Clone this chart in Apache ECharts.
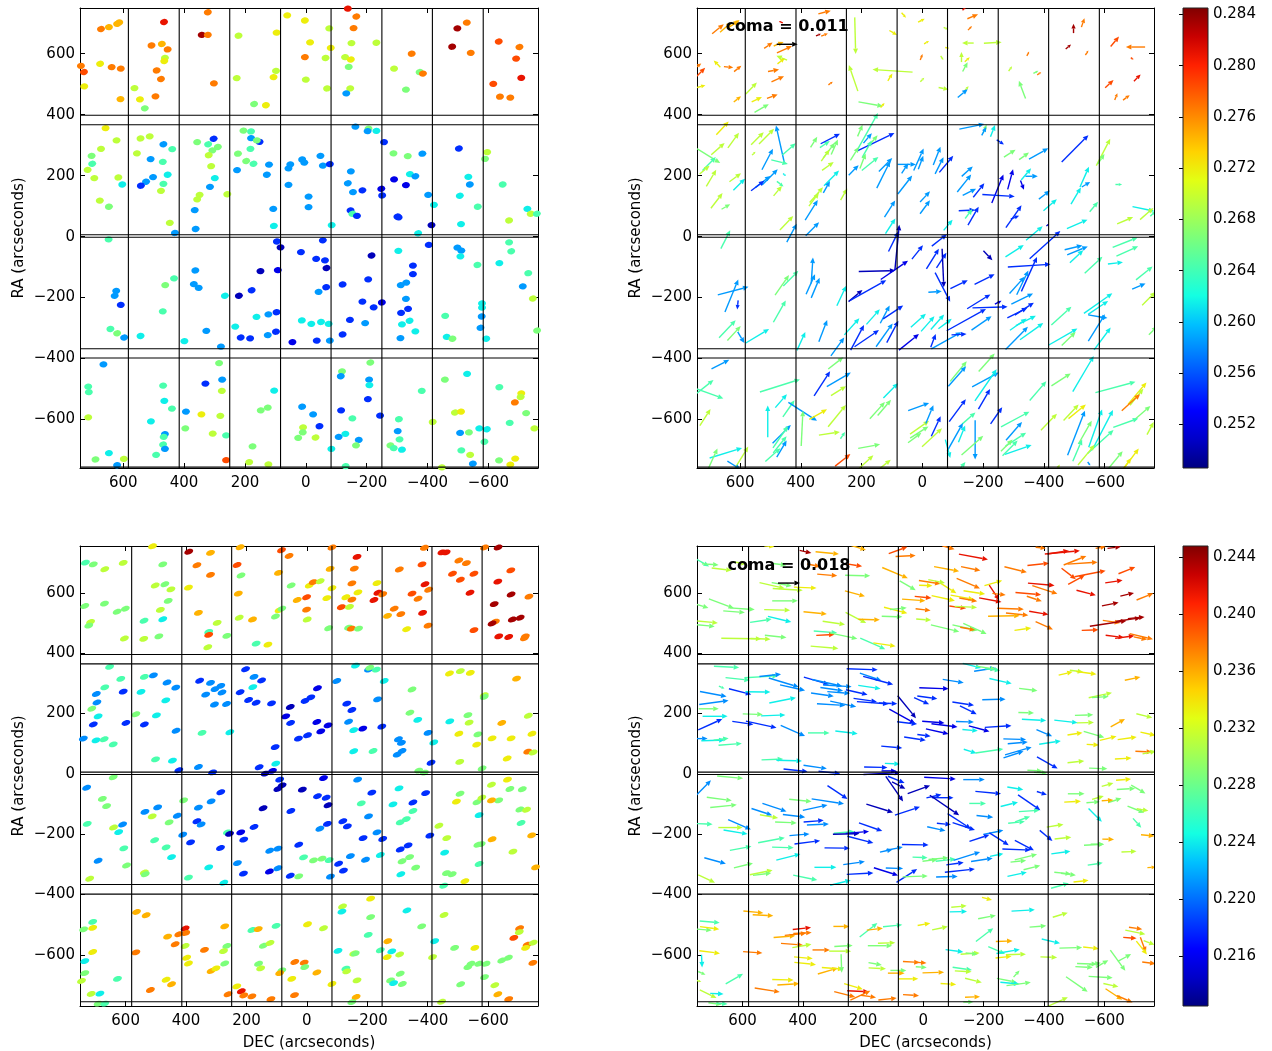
<!DOCTYPE html>
<html>
<head>
<meta charset="utf-8">
<script src="https://cdn.jsdelivr.net/npm/echarts@6/dist/echarts.min.js"></script>
<style>
html,body{margin:0;padding:0;background:#fff}
#chart{width:1272px;height:1051px}
</style>
</head>
<body>
<div id="chart"></div>
<script>
// Star records: [DEC, RA, value, comaDEC, comaRA]; coma components in units of 1e-4
const topStars = [
[673,681,.2766,-61,49],[647,687,.2744,-61,52],[620,698,.2744,-52,35],[613,703,.2744,-35,21],[739,560,.2766,-35,26],
[729,540,.2784,-44,44],[676,567,.2719,35,35],[638,556,.2766,-49,-5],[608,551,.2766,-38,31],[728,493,.2719,-44,12],
[609,451,.2744,-38,30],[466,704,.2809,21,9],[507,627,.2766,-44,30],[473,632,.2744,-52,21],[454,614,.2766,-79,35],
[463,586,.2694,56,23],[465,576,.2719,-38,30],[490,545,.2766,-58,10],[476,517,.2766,-66,30],[563,487,.2694,-58,60],
[545,450,.2719,-54,26],[494,460,.2766,-56,21],[529,421,.2666,-75,42],[322,736,.2766,-65,17],[342,662,.2834,-26,10],
[322,662,.2766,-35,14],[302,503,.2766,-23,17],[221,659,.2694,-5,-192],[227,520,.2694,47,136],[170,435,.2666,-128,-23],
[131,431,.2719,-21,24],[98,544,.2694,210,14],[106,523,.2719,-24,38],[96,669,.2719,-40,-23],[61,726,.2719,-23,-26],
[3,709,.2719,-35,17],[-14,637,.2719,-26,14],[3,589,.2766,-12,31],[0,515,.2694,-21,21],[-77,683,.2694,-21,-10],
[-82,619,.2719,-21,-4],[-65,586,.2694,-14,-21],[-70,486,.2694,-52,-10],[-138,748,.2809,-18,18],[-166,722,.2766,-56,23],
[-157,684,.2766,-21,21],[-150,635,.2694,61,0],[-232,636,.2694,-93,5],[-129,589,.2694,0,52],[-148,581,.2719,-26,23],
[-141,557,.2666,-26,49],[-146,486,.2694,-21,23],[-133,470,.2585,-52,44],[-348,600,.2766,-12,23],[-290,551,.2694,-18,26],
[-374,540,.2666,-26,14],[-385,535,.2766,-21,14],[-329,482,.2666,35,93],[-498,683,.2834,0,49],[-529,702,.2766,-16,47],
[-481,623,.2834,-28,23],[-542,603,.2766,-16,23],[-634,640,.2784,-44,52],[-702,622,.2766,101,0],[-691,584,.2784,-14,-10],
[-708,521,.2809,-35,35],[-616,501,.2784,-44,40],[-638,459,.2766,-14,35],[-672,456,.2766,-35,26],
[658,356,.2719,-65,70],[622,316,.2694,-58,79],[673,288,.2694,-70,61],[704,265,.2666,-122,-75],[702,239,.2644,-70,70],
[717,219,.2694,-52,44],[695,192,.2694,-52,87],[616,194,.2694,-61,44],[603,171,.2615,-61,61],[677,118,.2694,-61,79],
[647,98,.2666,-45,26],[543,322,.2694,-66,65],[513,329,.2694,-79,79],[555,273,.2694,-18,18],[468,303,.2585,44,196],
[439,287,.2644,-70,61],[510,254,.2585,-58,110],[470,245,.2644,-87,-21],[454,203,.2615,-14,-14],[502,195,.2585,-82,82],
[525,180,.2585,-79,61],[542,167,.2547,-70,52],[468,173,.2644,-35,-26],[476,150,.2694,-44,52],[447,45,.2694,-70,73],
[430,12,.2585,-52,96],[357,310,.2666,-35,56],[321,303,.2644,-52,35],[303,321,.2547,-101,52],[289,294,.2666,-35,79],
[307,283,.2666,-61,79],[319,267,.2694,-44,61],[311,231,.2694,-61,44],[299,192,.2615,-79,79],[315,163,.2585,-35,61],
[258,139,.2694,-35,61],[349,137,.2694,-70,79],[357,122,.2694,-52,70],[365,87,.2585,-66,105],[362,25,.2585,-70,70],
[205,348,.2666,-26,61],[180,345,.2644,-108,192],[180,323,.2585,-44,52],[152,311,.2547,-192,91],[161,316,.2666,-44,52],
[182,288,.2644,-49,87],[223,272,.2666,-44,70],[196,248,.2666,-30,79],[172,239,.2644,-87,70],[226,218,.2585,-52,52],
[121,236,.2585,-70,70],[128,203,.2585,-70,140],[107,91,.2585,-56,87],[105,35,.2615,-52,79],[51,237,.2585,-96,0],
[57,224,.2585,-35,52],[57,170,.2585,-75,96],[12,253,.2585,-52,114],[5,243,.2585,-26,70],[-9,131,.2585,-52,56],
[-9,97,.2585,-52,70],[-48,265,.2585,-38,96],[-56,233,.2585,-44,87],[-79,238,.2547,-73,87],[-85,38,.2615,-47,56],
[-163,361,.2585,-131,26],[-206,354,.2666,-18,44],[-203,346,.2585,-23,44],[-232,347,.2615,-24,61],[-257,310,.2547,-38,-24],
[-148,214,.2585,-58,52],[-138,175,.2585,-73,91],[-155,146,.2585,-70,35],[-186,152,.2547,-58,73],[-248,157,.2522,-61,149],
[-251,135,.2547,-170,-10],[-147,86,.2547,-86,4],[-153,75,.2644,-38,49],[-168,68,.2547,-56,96],[-288,273,.2666,-61,38],
[-335,264,.2666,-52,37],[-383,272,.2585,-101,56],[-290,188,.2522,-28,105],[-329,169,.2522,-18,-49],[-342,205,.2615,-52,61],
[-360,198,.2585,-65,0],[-402,137,.2585,-58,45],[-421,104,.2615,-70,60],[-301,66,.2547,-82,117],[-305,63,.2547,-44,17],
[-413,38,.2504,-14,10],[-369,11,.2615,-87,73],[-503,289,.2547,-140,140],[-534,196,.2615,-47,105],[-539,171,.2585,-44,26],
[-506,134,.2615,-52,87],[-565,98,.2644,-44,52],[-510,41,.2615,-108,47],[-596,277,.2694,-73,140],[-589,255,.2666,-35,52],
[-647,171,.2644,-35,0],[-728,91,.2615,-114,-24],[-739,75,.2694,-70,61],[-759,75,.2644,-26,26],[-668,53,.2694,-84,35],
[648,-9,.2644,-49,96],[623,-178,.2585,-161,42],[628,-194,.2585,-70,170],[608,-224,.2547,5,-47],[642,-303,.2644,-87,91],
[620,-317,.2666,-70,75],[597,-331,.2585,-35,-58],[462,-159,.2666,-73,105],[433,-137,.2644,-79,79],[470,-245,.2644,-65,114],
[543,-326,.2615,-122,73],[363,-111,.2585,-9,135],[368,-156,.2585,-47,105],[352,-168,.2585,-44,105],[266,-194,.2615,-49,105],
[327,-309,.2585,-44,114],[399,-343,.2615,-44,96],[279,-361,.2585,-70,96],[95,-16,.2547,-52,105],[83,-35,.2504,-23,236],
[149,-113,.2504,-192,5],[92,-110,.2522,-143,98],[16,-51,.2547,-58,72],[220,-194,.2504,-73,61],[178,-176,.2547,-189,105],
[162,-263,.2615,-70,79],[123,-255,.2585,-49,93],[96,-248,.2547,-105,70],[232,-295,.2615,-79,87],[214,-331,.2547,-70,131],
[183,-334,.2547,-128,87],[125,-323,.2585,-87,122],[98,-312,.2547,-61,114],[44,-346,.2522,-105,84],[13,-275,.2615,-79,70],
[-56,-12,.2547,-79,61],[-34,-73,.2547,-65,105],[-63,-78,.2547,-52,79],[-68,-103,.2504,-9,-201],[-67,-166,.2547,-79,-152],
[-42,-181,.2585,-70,5],[-18,-286,.2615,-70,79],[-50,-280,.2615,-70,79],[-75,-286,.2615,-70,52],[-36,-341,.2547,-26,70],
[-79,-341,.2585,-157,87],[-216,-62,.2504,-47,-49],[-205,-140,.2547,-105,52],[-121,-157,.2547,-91,44],[-186,-213,.2547,-122,75],
[-223,-232,.2547,-184,5],[-250,-216,.2522,-35,17],[-145,-273,.2547,-206,114],[-195,-284,.2585,-105,73],[-121,-321,.2547,-79,4],
[-304,-47,.2615,-96,61],[-404,-27,.2547,-161,145],[-352,-95,.2547,-224,14],[-352,-123,.2547,-82,180],[-330,-151,.2585,-61,126],
[-312,-159,.2585,-79,87],[-329,-204,.2585,-114,56],[-336,-237,.2547,-100,65],[-313,-250,.2547,-105,52],[-341,-276,.2615,-105,52],
[-316,-288,.2615,-87,61],[-360,-311,.2615,-122,87],[-311,-333,.2585,-117,119],[-498,-36,.2585,-93,23],[-511,-46,.2585,-108,44],
[-508,-65,.2615,-70,66],[-564,-93,.2644,-93,87],[-458,-260,.2644,-105,96],[-463,-329,.2615,-152,87],[-482,-335,.2666,-73,70],
[-579,-219,.2615,-149,105],[-579,-233,.2615,-105,70],[-578,-262,.2585,-101,-17],[-574,-299,.2585,-87,140],[-593,-335,.2615,-87,117],
[-668,-19,.2644,-131,52],[-675,-48,.2644,-114,52],[-636,-87,.2615,-79,9],[-731,-120,.2644,-87,70],[-713,-163,.2585,-70,30],
[-746,-203,.2694,-70,70],[-760,-308,.2666,-44,44],
[665,-419,.2585,-93,47],[715,-492,.2644,-87,70],[713,-510,.2644,-184,-66],[715,-593,.2694,-56,87],[647,-710,.2615,-170,52],
[598,-729,.2694,-79,128],[691,-731,.2666,-52,114],[620,-750,.2585,-70,-44],[469,-489,.2644,-210,66],[465,-539,.2615,-61,70],
[440,-564,.2644,-61,87],[509,-606,.2615,0,166],[463,-648,.2585,-96,96],[467,-657,.2644,-79,114],[469,-682,.2644,-70,87],
[463,-696,.2585,-52,87],[492,-716,.2644,-79,70],[285,-415,.2666,-79,61],[330,-482,.2547,-84,128],[275,-469,.2585,-126,73],
[276,-506,.2694,-79,49],[394,-574,.2585,-150,-96],[343,-583,.2719,-93,52],[281,-588,.2694,-93,114],[396,-629,.2666,-9,184],
[306,-646,.2694,-110,17],[262,-652,.2644,-24,35],[262,-733,.2784,-80,63],[104,-505,.2615,-77,77],[148,-570,.2666,-79,87],
[125,-561,.2666,-70,82],[175,-688,.2666,-115,21],[186,-740,.2694,-79,73],[123,-747,.2694,-61,49],[12,-558,.2585,-110,40],
[9,-626,.2694,-100,70],[10,-642,.2666,-96,61],[25,-660,.2666,-70,52],[-24,-583,.2585,-40,96],[-45,-622,.2547,-49,105],
[-32,-659,.2694,-105,96],[-119,-442,.2666,-87,105],[-115,-458,.2585,-93,105],[-212,-413,.2666,-84,93],[-208,-469,.2585,-140,75],
[-209,-487,.2615,-114,166],[-204,-533,.2547,-61,105],[-116,-570,.2547,-87,117],[-153,-596,.2644,-70,61],[-244,-587,.2547,-61,87],
[-108,-657,.2585,-82,145],[-130,-647,.2615,-35,87],[-174,-667,.2585,0,-205],[-165,-685,.2666,-114,100],[-84,-696,.2615,-26,-96],
[-131,-753,.2644,-35,44],[-381,-506,.2644,-87,101],[-306,-599,.2644,-149,79],[-302,-638,.2585,-84,96],[-308,-665,.2644,-108,70],
[-316,-699,.2615,-140,49],[-278,-685,.2666,-61,61],[-289,-694,.2644,-79,79],[-417,-608,.2694,-84,87],[-530,-450,.2615,-110,186],
[-457,-469,.2666,-101,65],[-490,-577,.2694,-79,84],[-510,-574,.2719,-91,73],[-507,-644,.2585,-91,233],[-536,-642,.2666,-70,122],
[-570,-629,.2615,-70,198],[-595,-632,.2615,-105,201],[-587,-673,.2644,-136,122],[-511,-701,.2644,-49,114],[-540,-716,.2694,-87,105],
[-549,-745,.2585,-14,-18],[-447,-757,.2694,-18,30],[-636,-494,.2644,-210,56],[-708,-514,.2719,-96,114],[-706,-526,.2694,-70,87],
[-687,-544,.2766,-96,87],[-724,-579,.2666,-87,75],[-670,-611,.2644,-131,47],[-751,-629,.2694,-35,66],[-635,-734,.2666,-79,96],
[-688,-728,.2719,-79,105],[-672,-748,.2719,-52,70]
];

const bottomStars = [
[733,701,.2267,-109,-63],[707,695,.2287,-137,-8],[669,679,.2312,-164,-19],[608,700,.2312,-109,-14],[735,557,.2287,-109,-35],
[670,565,.2287,-205,-76],[628,538,.2287,-177,-14],[601,548,.2287,-205,-14],[716,504,.2312,-169,-16],[722,492,.2287,-147,-14],
[604,449,.2312,-328,-5],[511,755,.2335,-82,-8],[477,695,.2287,-109,-14],[502,625,.2312,-205,-46],[470,629,.2287,-164,-27],
[450,612,.2312,-246,-14],[459,574,.2287,-210,0],[485,544,.2312,-213,-5],[539,508,.2267,-177,27],[477,513,.2241,-191,-46],
[540,448,.2312,-164,-5],[490,456,.2287,-177,-19],[391,737,.2438,-96,-22],[319,733,.2358,-191,-19],[364,692,.2377,-109,-22],
[319,660,.2377,-164,-14],[392,618,.2335,-186,-8],[359,534,.2358,-191,-19],[297,501,.2312,-183,-27],[325,471,.2267,-191,-14],
[325,461,.2393,-150,8],[265,458,.2287,-227,-49],[328,420,.2312,-227,-19],[221,752,.2358,-150,-46],[231,693,.2393,-137,-22],
[218,658,.2287,-205,-5],[227,598,.2358,-164,-44],[224,518,.2312,-169,-87],[180,512,.2358,-175,-5],[168,432,.2267,-205,-90],
[129,429,.2335,-183,-27],[84,742,.2393,-153,55],[59,723,.2377,-164,8],[94,667,.2358,-210,-87],[52,625,.2287,-131,-76],
[32,577,.2358,-191,-14],[1,586,.2393,-137,-14],[1,545,.2377,-123,-14],[92,543,.2335,-191,-49],[83,548,.2287,-137,14],
[104,522,.2287,-169,-5],[-1,512,.2312,-123,-8],[-8,625,.2335,-109,-5],[-83,751,.2377,-101,-27],[-77,680,.2358,-205,-38],
[-83,616,.2335,-131,-82],[-66,583,.2335,-191,-41],[-21,636,.2377,-177,-27],[-44,639,.2312,-137,-27],[-72,483,.2287,-232,-55],
[-166,720,.2416,-238,-44],[-157,681,.2377,-158,-33],[-149,632,.2377,-191,-82],[-232,633,.2335,-145,41],[-169,602,.2335,-177,-27],
[-129,586,.2335,-191,-35],[-149,578,.2377,-147,-27],[-235,601,.2416,-82,-123],[-222,577,.2416,-183,-35],[-114,553,.2393,-137,-19],
[-141,554,.2312,-183,-8],[-251,596,.2377,-109,-14],[-138,485,.2287,-205,-46],[-147,482,.2377,-123,-22],[-171,482,.2287,-191,-87],
[-306,678,.2377,-183,-46],[-381,695,.2393,-177,19],[-389,750,.2377,-82,-8],[-391,629,.2416,-218,-19],[-403,611,.2377,-205,-68],
[-348,598,.2393,-210,-19],[-368,581,.2377,-123,-41],[-289,548,.2377,-218,-8],[-311,530,.2377,-183,-19],[-267,524,.2358,-259,5],
[-383,534,.2416,-158,-27],[-401,492,.2377,-142,-63],[-330,480,.2335,-137,19],[-447,735,.2416,-177,27],[-461,735,.2416,-287,27],
[-503,708,.2377,-186,74],[-528,699,.2377,-246,16],[-482,664,.2393,-117,-90],[-553,664,.2393,-254,49],[-508,644,.2393,-137,76],
[-540,601,.2416,-158,-41],[-553,477,.2393,-137,5],[-633,751,.2438,-109,14],[-588,751,.2377,-82,14],[-675,675,.2393,-137,55],
[-632,638,.2416,-142,22],[-676,595,.2438,-112,27],[-735,588,.2377,-137,55],[-620,563,.2438,-137,27],[-624,505,.2377,-142,-22],
[-613,499,.2438,-300,46],[-680,512,.2438,-199,27],[-706,518,.2438,-137,14],[-635,456,.2416,-150,-19],[-668,454,.2416,-158,22],
[-723,456,.2377,-191,-46],[-720,450,.2377,-109,-22],
[653,355,.2267,-207,-11],[616,315,.2267,-199,-22],[669,287,.2267,-46,-19],[697,265,.2210,-218,-41],[695,237,.2210,-240,33],
[712,216,.2287,-164,0],[691,191,.2241,-205,0],[707,164,.2180,-197,90],[740,117,.2210,-120,0],[698,111,.2241,-191,5],
[671,115,.2267,-123,14],[641,98,.2267,-191,14],[608,273,.2180,-183,-46],[599,169,.2180,-172,-25],[538,322,.2267,-273,16],
[508,327,.2210,-177,19],[549,272,.2241,-205,-3],[566,198,.2287,-164,-5],[498,194,.2241,-199,8],[538,164,.2180,-251,-55],
[463,303,.2210,-246,-74],[434,286,.2210,-205,-46],[467,244,.2241,-218,44],[433,143,.2210,-199,-87],[501,48,.2267,-177,8],
[445,44,.2241,-210,-5],[424,12,.2180,-197,-22],[355,309,.2180,-205,-60],[319,302,.2210,-246,-55],[285,292,.2210,-232,-14],
[304,281,.2210,-186,-27],[335,263,.2210,-186,-27],[281,270,.2210,-186,-14],[306,230,.2210,-232,-14],[266,232,.2210,-213,-46],
[347,136,.2267,-177,0],[255,138,.2241,-183,-22],[359,23,.2210,-191,-27],[312,5,.2180,-177,-19],[203,347,.2180,-254,-8],
[175,322,.2210,-177,-60],[150,310,.2180,-246,-66],[179,288,.2241,-183,-27],[221,271,.2180,-177,-41],[193,245,.2180,-191,-27],
[168,236,.2180,-259,-19],[117,234,.2180,-150,-5],[70,191,.2157,-213,-117],[55,222,.2141,-150,-183],[54,169,.2180,-164,-19],
[105,89,.2180,-172,-16],[103,34,.2241,-123,-5],[158,22,.2180,-191,-5],[138,1,.2141,-300,16],[114,10,.2157,-123,0],
[6,242,.2180,-123,-55],[28,117,.2180,-177,-27],[-2,128,.2180,-109,-14],[-35,284,.2157,-240,-8],[-13,254,.2180,-164,-22],
[-33,172,.2157,-183,-14],[-70,161,.2157,-213,-27],[-46,141,.2157,-186,-41],[-99,308,.2210,-172,-27],[-132,233,.2180,-177,-27],
[-149,212,.2180,-137,-68],[-138,173,.2210,-147,-5],[-155,145,.2241,-126,-11],[-185,150,.2157,-169,-46],[-248,157,.2180,-218,14],
[-234,247,.2210,-191,5],[-256,308,.2241,-183,-41],[-161,359,.2241,-150,-38],[-204,346,.2210,-177,27],[-208,352,.2287,-164,-27],
[-230,346,.2267,-123,-14],[-155,75,.2241,-104,-33],[-219,76,.2267,-227,33],[-348,280,.2287,-150,-19],[-341,203,.2287,-128,-3],
[-367,179,.2241,-199,-11],[-401,136,.2210,-128,-55],[-420,104,.2241,-177,27],[-303,115,.2210,-186,-5],[-313,103,.2210,-164,14],
[-315,76,.2210,-218,63],[-299,64,.2210,-164,55],[-411,37,.2180,-169,-96],[-370,11,.2287,-123,-5],[-389,4,.2287,-109,-5],
[-472,333,.2335,-115,27],[-508,341,.2312,-109,-14],[-541,335,.2335,-164,-22],[-587,261,.2312,-191,41],[-587,255,.2287,-137,8],
[-533,195,.2287,-150,5],[-537,170,.2312,-142,3],[-473,174,.2241,-191,-22],[-503,133,.2335,-123,19],[-566,131,.2287,-169,-49],
[-562,97,.2335,-101,-5],[-506,40,.2312,-137,14],[-580,18,.2287,-150,-5],[-694,316,.2358,-128,27],[-733,193,.2312,-131,-33],
[-645,169,.2358,-117,63],[-613,118,.2335,-137,33],[-676,118,.2335,-156,22],[-745,133,.2335,-123,-27],[-731,74,.2377,-137,-5],
[-749,71,.2312,-109,22],[-663,51,.2335,-137,8],
[641,-11,.2287,-213,-19],[729,-46,.2210,-120,123],[677,-83,.2287,-205,-27],[663,-107,.2287,-218,22],[727,-166,.2267,-137,-5],
[640,-178,.2312,-199,0],[623,-193,.2241,-197,-33],[610,-168,.2210,-186,-82],[606,-247,.2267,-177,33],[691,-288,.2210,-177,-49],
[597,-304,.2287,-156,38],[719,-348,.2312,-137,-63],[536,-126,.2210,-169,-55],[494,-111,.2210,-197,-66],[512,-141,.2312,-150,-27],
[456,-161,.2287,-177,-8],[429,-139,.2210,-183,-22],[504,-220,.2267,-218,41],[466,-244,.2267,-177,-5],[448,-276,.2241,-197,49],
[538,-327,.2312,-186,38],[535,-333,.2287,-150,19],[408,-88,.2287,-183,-19],[411,-202,.2210,-164,14],[385,-227,.2180,-210,27],
[392,-344,.2267,-197,-41],[359,-112,.2210,-202,44],[364,-157,.2180,-164,14],[350,-168,.2210,-180,8],[317,-91,.2210,-265,-41],
[285,-61,.2180,-164,-109],[286,-246,.2180,-207,-3],[325,-310,.2241,-180,0],[275,-361,.2241,-169,41],[263,-194,.2267,-169,14],
[256,-199,.2141,-218,5],[219,-194,.2157,-191,16],[209,-218,.2180,-213,-55],[175,-176,.2180,-191,-68],[145,-114,.2141,-218,-68],
[230,-296,.2210,-177,25],[210,-331,.2180,-218,11],[123,-255,.2210,-104,22],[96,-248,.2210,-137,27],[124,-324,.2157,-199,-63],
[96,-313,.2210,-142,-5],[90,-19,.2180,-137,-55],[96,-50,.2141,-142,-205],[82,-38,.2141,-109,-55],[15,-52,.2141,-183,68],
[53,-123,.2180,-205,68],[27,-235,.2180,-218,-3],[11,-277,.2267,-123,-5],[55,-338,.2180,-169,109],[27,-340,.2287,-205,8],
[-55,-14,.2157,-259,-14],[-35,-74,.2180,-123,27],[-64,-79,.2180,-177,0],[-70,-104,.2141,-240,-164],[-68,-166,.2180,-115,-11],
[-43,-182,.2210,-150,-33],[-22,-287,.2287,-123,14],[-50,-281,.2287,-164,14],[-74,-286,.2267,-164,19],[-105,-298,.2180,-142,19],
[-121,-321,.2180,-246,27],[-78,-341,.2210,-177,5],[-168,-19,.2210,-177,0],[-215,-62,.2180,-210,-19],[-180,-98,.2267,-137,0],
[-204,-141,.2210,-137,-14],[-119,-157,.2180,-191,-123],[-134,-174,.2180,-183,-60],[-232,-194,.2210,-164,33],[-186,-213,.2180,-164,55],
[-251,-216,.2180,-158,-101],[-144,-273,.2210,-218,68],[-194,-285,.2210,-177,27],[-243,-269,.2241,-109,22],[-305,-48,.2241,-131,-22],
[-285,-101,.2241,-142,35],[-351,-95,.2180,-183,-126],[-351,-123,.2267,-169,11],[-329,-150,.2267,-123,44],[-309,-161,.2267,-137,14],
[-393,-64,.2180,-82,-27],[-407,-205,.2180,-104,-87],[-309,-251,.2180,-232,-8],[-335,-237,.2180,-156,-82],[-340,-276,.2287,-183,46],
[-315,-290,.2287,-128,14],[-360,-311,.2287,-137,35],[-311,-333,.2241,-158,35],[-437,-172,.2312,-137,22],[-463,-213,.2312,-137,14],
[-456,-261,.2241,-156,22],[-462,-329,.2287,-137,-14],[-481,-333,.2287,-123,-16],[-523,-356,.2335,-123,14],[-453,-371,.2267,-145,41],
[-507,-66,.2287,-137,0],[-495,-92,.2335,-137,8],[-563,-94,.2287,-109,8],[-579,-79,.2312,-96,27],[-570,-137,.2241,-109,-109],
[-566,-235,.2287,-164,8],[-577,-233,.2287,-109,0],[-570,-299,.2267,-123,19],[-611,-36,.2312,-96,27],[-664,-19,.2335,-123,11],
[-672,-50,.2287,-150,8],[-713,-51,.2287,-117,-68],[-635,-88,.2287,-109,35],[-611,-88,.2358,-96,5],[-705,-118,.2287,-137,-55],
[-727,-119,.2312,-96,-16],[-709,-163,.2267,-68,-76],[-613,-217,.2358,-96,-3],[-682,-258,.2312,-123,5],[-744,-204,.2358,-109,-11],
[-757,-310,.2358,-68,5],
[564,-458,.2358,-164,-16],[532,-469,.2358,-169,-8],[709,-491,.2267,-164,-14],[739,-516,.2287,-183,-14],[709,-511,.2335,-158,-22],
[709,-591,.2335,-169,-22],[735,-621,.2241,-5,-104],[735,-661,.2287,-60,-27],[746,-687,.2312,-46,-14],[627,-680,.2267,-142,82],
[714,-730,.2312,-137,-68],[685,-729,.2241,-109,-5],[691,-762,.2287,-109,-14],[669,-762,.2267,-96,-8],[566,-592,.2377,-158,-11],
[461,-540,.2358,-177,14],[436,-565,.2377,-180,-14],[424,-532,.2377,-177,19],[403,-513,.2416,-150,16],[401,-528,.2377,-150,8],
[403,-571,.2312,-156,27],[398,-610,.2335,-153,-14],[392,-629,.2335,-177,-19],[466,-683,.2335,-175,-5],[448,-698,.2358,-180,11],
[518,-717,.2377,-205,-33],[339,-584,.2377,-142,0],[317,-654,.2358,-164,49],[301,-645,.2335,-177,-14],[272,-506,.2358,-131,0],
[265,-571,.2287,-150,8],[276,-588,.2312,-180,0],[272,-629,.2287,-5,-150],[182,-518,.2267,-145,115],[161,-515,.2358,-131,16],
[144,-570,.2287,-199,0],[122,-561,.2312,-142,5],[160,-630,.2287,-109,-19],[153,-645,.2312,-142,-8],[102,-504,.2267,-158,16],
[83,-652,.2287,-131,0],[90,-661,.2358,-137,0],[50,-680,.2335,-164,0],[40,-624,.2377,-137,-8],[9,-626,.2377,-96,-5],
[7,-641,.2287,-90,-5],[232,-705,.2335,-153,-46],[217,-721,.2416,-177,-8],[209,-735,.2377,-164,76],[182,-738,.2377,-123,-19],
[119,-747,.2377,-150,16],[261,-731,.2377,-172,-44],[41,-734,.2377,-131,-8],[-2,-499,.2335,-104,19],[-55,-512,.2312,-128,27],
[-33,-659,.2358,-177,5],[-83,-697,.2335,-128,-8],[-211,-414,.2335,-82,-22],[-118,-440,.2312,-126,11],[-116,-457,.2241,-142,3],
[-211,-475,.2287,-145,27],[-203,-534,.2267,-142,109],[-103,-587,.2241,-145,-19],[-155,-596,.2312,-156,11],[-160,-596,.2287,-98,-11],
[-129,-646,.2267,-158,-22],[-132,-655,.2312,-137,-8],[-166,-685,.2312,-137,-35],[-163,-740,.2358,-123,5],[-149,-757,.2287,-82,0],
[-331,-453,.2241,-191,11],[-380,-506,.2287,-137,11],[-268,-555,.2358,-137,5],[-243,-585,.2267,-137,-60],[-281,-589,.2241,-191,33],
[-307,-599,.2312,-164,5],[-266,-608,.2335,-131,14],[-309,-663,.2287,-49,55],[-277,-685,.2287,-164,-33],[-287,-694,.2241,-156,-14],
[-316,-697,.2287,-199,27],[-454,-468,.2312,-123,38],[-423,-555,.2241,-150,-35],[-489,-577,.2287,-186,5],[-556,-577,.2335,-128,-14],
[-416,-608,.2312,-137,-5],[-543,-630,.2287,-164,-5],[-533,-641,.2287,-142,-8],[-569,-630,.2287,-96,19],[-593,-630,.2287,-101,60],
[-588,-674,.2287,-197,-11],[-509,-698,.2287,-177,-123],[-622,-701,.2312,-123,-27],[-446,-756,.2312,-164,74],[-704,-512,.2377,-109,-16],
[-703,-525,.2312,-164,-33],[-685,-544,.2393,-109,-8],[-729,-567,.2377,-46,-123],[-724,-577,.2335,-87,-109],[-749,-560,.2312,-90,-35],
[-645,-619,.2287,-123,-169],[-667,-610,.2287,-109,60],[-748,-627,.2377,-109,-14],[-632,-731,.2358,-137,-90],[-668,-747,.2377,-128,-55]
];

// Axis ticks and colour-bar ticks
const tickValues = [-600, -400, -200, 0, 200, 400, 600];
const topColorTicks = [0.252, 0.256, 0.260, 0.264, 0.268, 0.272, 0.276, 0.280, 0.284];
const bottomColorTicks = [0.216, 0.220, 0.224, 0.228, 0.232, 0.236, 0.240, 0.244];
const topRange = [0.2486, 0.2845];
const bottomRange = [0.2125, 0.2448];

// Axis extents (DEC runs right-to-left)
const topDecExtent = [-763, 742], topRaExtent = [-759, 750];
const bottomDecExtent = [-765, 751], bottomRaExtent = [-770, 756];

// CCD chip edges
const chipColsTop = [583, 416, 250, 83, -83, -250, -416, -583];
const chipRowsTop = [398, 367, 6, -2, -368, -398, -756];
const chipColsBottom = [580, 414, 249, 83, -83, -249, -414, -580];
const chipRowsBottom = [396, 365, 6, -2, -367, -399, -756];

// Quiver keys: [DEC, RA, coma (1e-4 units)] and their labels
const topKey = [[445, 631, 110]];
const bottomKey = [[446, 633, 180]];
const topKeyLabel = 'coma = 0.011';
const bottomKeyLabel = 'coma = 0.018';

// data units of arrow length per 1e-4 of coma
const topArrowScale = 0.628;
const bottomArrowScale = 0.405;

const JET = ['#000080','#0000c8','#0000ff','#0040ff','#0080ff','#00c0ff','#14ffe2','#48ffaf','#7bff7b',
             '#afff48','#e2ff14','#ffd200','#ff9700','#ff5c00','#ff2100','#c80000','#800000'];
const FONT = 'DejaVu Sans';
const ELLIPSE = 'path://M0,5C0,2.24 2.24,0 5,0C7.76,0 10,2.24 10,5C10,7.76 7.76,10 5,10C2.24,10 0,7.76 0,5Z';

function fmtTick(v) { return v < 0 ? '\u2212' + Math.abs(v) : String(v); }

function arrowShape(a, b, color) {
  const dx = b[0] - a[0], dy = b[1] - a[1];
  const len = Math.hypot(dx, dy) || 1e-6;
  const ux = dx / len, uy = dy / len;
  const hl = Math.min(5.5, len * 0.5), hw = Math.max(hl * 0.45, 1.2);
  const base = [b[0] - ux * hl, b[1] - uy * hl];
  return {
    type: 'group',
    children: [
      { type: 'line', shape: { x1: a[0], y1: a[1], x2: base[0], y2: base[1] },
        style: { stroke: color, lineWidth: 1.4 } },
      { type: 'polygon', shape: { points: [b, [base[0] - uy * hw, base[1] + ux * hw], [base[0] + uy * hw, base[1] - ux * hw]] },
        style: { fill: color } }
    ]
  };
}

function quiverRender(scale) {
  return function (params, api) {
    const x = api.value(0), y = api.value(1);
    const u = api.value(3) * scale, v = api.value(4) * scale;
    const a = api.coord([x - u / 2, y - v / 2]);
    const b = api.coord([x + u / 2, y + v / 2]);
    return arrowShape(a, b, api.visual('color'));
  };
}

function keyRender(scale, label) {
  return function (params, api) {
    const x = api.value(0), y = api.value(1), c = api.value(2) * scale;
    const a = api.coord([x + c / 2, y]);
    const b = api.coord([x - c / 2, y]);
    const g = arrowShape(a, b, '#000');
    g.children.push({
      type: 'text',
      style: { text: label, x: (a[0] + b[0]) / 2, y: a[1] - 17.5, align: 'center', verticalAlign: 'middle',
               font: 'bold 16px "' + FONT + '"', fill: '#000' }
    });
    return g;
  };
}

function chipSegments(cols, rows, decExt, raExt) {
  const segs = [];
  cols.forEach(c => segs.push([c, raExt[0], c, raExt[1]]));
  rows.forEach(r => segs.push([decExt[0], r, decExt[1], r]));
  return segs;
}

function chipRender(params, api) {
  const a = api.coord([api.value(0), api.value(1)]);
  const b = api.coord([api.value(2), api.value(3)]);
  return { type: 'line', shape: { x1: a[0], y1: a[1], x2: b[0], y2: b[1] },
           style: { stroke: '#000', lineWidth: 1.1 } };
}

function colorbarRender(range) {
  return function (params, api) {
    const p0 = api.coord([0, range[0]]);
    const p1 = api.coord([1, range[1]]);
    const stops = JET.map((c, i) => ({ offset: i / (JET.length - 1), color: c }));
    return {
      type: 'rect',
      shape: { x: p0[0], y: p1[1], width: p1[0] - p0[0], height: p0[1] - p1[1] },
      style: { fill: new echarts.graphic.LinearGradient(0, 1, 0, 0, stops), stroke: '#222', lineWidth: 1 }
    };
  };
}

const labelStyle = { color: '#000', fontSize: 15, fontFamily: FONT };

function xAxisPair(grid, ext, withName) {
  const base = {
    type: 'value', gridIndex: grid, min: ext[0], max: ext[1], inverse: true,
    splitLine: { show: false },
    axisLine: { show: true, onZero: false, lineStyle: { color: '#000', width: 1 } },
    axisTick: { show: true, inside: true, length: 5, customValues: tickValues, lineStyle: { color: '#000' } }
  };
  return [
    Object.assign({}, base, {
      position: 'bottom',
      axisLabel: Object.assign({ show: true, customValues: tickValues, formatter: fmtTick, margin: 8 }, labelStyle),
      name: withName ? 'DEC (arcseconds)' : '', nameLocation: 'middle', nameGap: 30,
      nameTextStyle: labelStyle
    }),
    Object.assign({}, base, { position: 'top', axisLabel: { show: false } })
  ];
}

function yAxisPair(grid, ext) {
  const base = {
    type: 'value', gridIndex: grid, min: ext[0], max: ext[1],
    splitLine: { show: false },
    axisLine: { show: true, onZero: false, lineStyle: { color: '#000', width: 1 } },
    axisTick: { show: true, inside: true, length: 5, customValues: tickValues, lineStyle: { color: '#000' } }
  };
  return [
    Object.assign({}, base, {
      position: 'left',
      axisLabel: Object.assign({ show: true, customValues: tickValues, formatter: fmtTick, margin: 5 }, labelStyle),
      name: 'RA (arcseconds)', nameLocation: 'middle', nameGap: 53, nameRotate: 90,
      nameTextStyle: labelStyle
    }),
    Object.assign({}, base, { position: 'right', axisLabel: { show: false } })
  ];
}

function colorbarAxes(grid, range, ticks) {
  return {
    x: { type: 'value', gridIndex: grid, min: 0, max: 1, show: false },
    y: {
      type: 'value', gridIndex: grid, min: range[0], max: range[1], position: 'right',
      splitLine: { show: false },
      axisLine: { show: false },
      axisTick: { show: true, inside: true, length: 4, customValues: ticks, lineStyle: { color: '#000' } },
      axisLabel: Object.assign({ show: true, customValues: ticks, formatter: v => v.toFixed(3), margin: 5 }, labelStyle)
    }
  };
}

const grids = [
  { left: 80, top: 8, width: 458, height: 460 },
  { left: 697, top: 8, width: 457, height: 460 },
  { left: 80, top: 546, width: 458, height: 460 },
  { left: 697, top: 546, width: 457, height: 460 },
  { left: 1183, top: 8, width: 25, height: 460 },
  { left: 1183, top: 546, width: 25, height: 460 }
].map(g => Object.assign({ outerBoundsMode: 'none', containLabel: false }, g));

const cbTop = colorbarAxes(4, topRange, topColorTicks);
const cbBottom = colorbarAxes(5, bottomRange, bottomColorTicks);

const xAxes = [].concat(
  xAxisPair(0, topDecExtent, false),
  xAxisPair(1, topDecExtent, false),
  xAxisPair(2, bottomDecExtent, true),
  xAxisPair(3, bottomDecExtent, true),
  [cbTop.x, cbBottom.x]
);
const yAxes = [].concat(
  yAxisPair(0, topRaExtent),
  yAxisPair(1, topRaExtent),
  yAxisPair(2, bottomRaExtent),
  yAxisPair(3, bottomRaExtent),
  [cbTop.y, cbBottom.y]
);

const series = [
  // 0: top-left ellipses
  { type: 'scatter', xAxisIndex: 0, yAxisIndex: 0, data: topStars.map(s => [s[0], s[1], s[2]]),
    symbol: ELLIPSE, symbolSize: [8, 6.3], symbolRotate: 6, silent: true, z: 2, itemStyle: { opacity: 1 } },
  // 1: top-right coma arrows
  { type: 'custom', xAxisIndex: 2, yAxisIndex: 2, data: topStars, renderItem: quiverRender(topArrowScale),
    clip: true, silent: true, z: 2, dimensions: ['dec', 'ra', 'val', 'cu', 'cv'], encode: { x: 0, y: 1 } },
  // 2: bottom-left ellipses
  { type: 'scatter', xAxisIndex: 4, yAxisIndex: 4, data: bottomStars.map(s => [s[0], s[1], s[2]]),
    symbol: ELLIPSE, symbolSize: [9.2, 5.4], symbolRotate: 18, silent: true, z: 2, itemStyle: { opacity: 1 } },
  // 3: bottom-right coma arrows
  { type: 'custom', xAxisIndex: 6, yAxisIndex: 6, data: bottomStars, renderItem: quiverRender(bottomArrowScale),
    clip: true, silent: true, z: 2, dimensions: ['dec', 'ra', 'val', 'cu', 'cv'], encode: { x: 0, y: 1 } },
  // 4-7: chip edges
  { type: 'custom', xAxisIndex: 0, yAxisIndex: 0, data: chipSegments(chipColsTop, chipRowsTop, topDecExtent, topRaExtent),
    renderItem: chipRender, clip: true, silent: true, z: 3 },
  { type: 'custom', xAxisIndex: 2, yAxisIndex: 2, data: chipSegments(chipColsTop, chipRowsTop, topDecExtent, topRaExtent),
    renderItem: chipRender, clip: true, silent: true, z: 3 },
  { type: 'custom', xAxisIndex: 4, yAxisIndex: 4, data: chipSegments(chipColsBottom, chipRowsBottom, bottomDecExtent, bottomRaExtent),
    renderItem: chipRender, clip: true, silent: true, z: 3 },
  { type: 'custom', xAxisIndex: 6, yAxisIndex: 6, data: chipSegments(chipColsBottom, chipRowsBottom, bottomDecExtent, bottomRaExtent),
    renderItem: chipRender, clip: true, silent: true, z: 3 },
  // 8-9: quiver keys
  { type: 'custom', xAxisIndex: 2, yAxisIndex: 2, data: topKey, renderItem: keyRender(topArrowScale, topKeyLabel),
    silent: true, z: 6 },
  { type: 'custom', xAxisIndex: 6, yAxisIndex: 6, data: bottomKey, renderItem: keyRender(bottomArrowScale, bottomKeyLabel),
    silent: true, z: 6 },
  // 10-11: colour bars
  { type: 'custom', xAxisIndex: 8, yAxisIndex: 8, data: [[0]], renderItem: colorbarRender(topRange), silent: true, z: 2 },
  { type: 'custom', xAxisIndex: 9, yAxisIndex: 9, data: [[0]], renderItem: colorbarRender(bottomRange), silent: true, z: 2 }
];

const chart = echarts.init(document.getElementById('chart'), null, { renderer: 'canvas' });
chart.setOption({
  animation: false,
  backgroundColor: '#fff',
  textStyle: { fontFamily: FONT },
  grid: grids,
  xAxis: xAxes,
  yAxis: yAxes,
  visualMap: [
    { type: 'continuous', show: false, min: topRange[0], max: topRange[1], dimension: 2, seriesIndex: [0, 1],
      inRange: { color: JET } },
    { type: 'continuous', show: false, min: bottomRange[0], max: bottomRange[1], dimension: 2, seriesIndex: [2, 3],
      inRange: { color: JET } }
  ],
  series: series
});
</script>
</body>
</html>
